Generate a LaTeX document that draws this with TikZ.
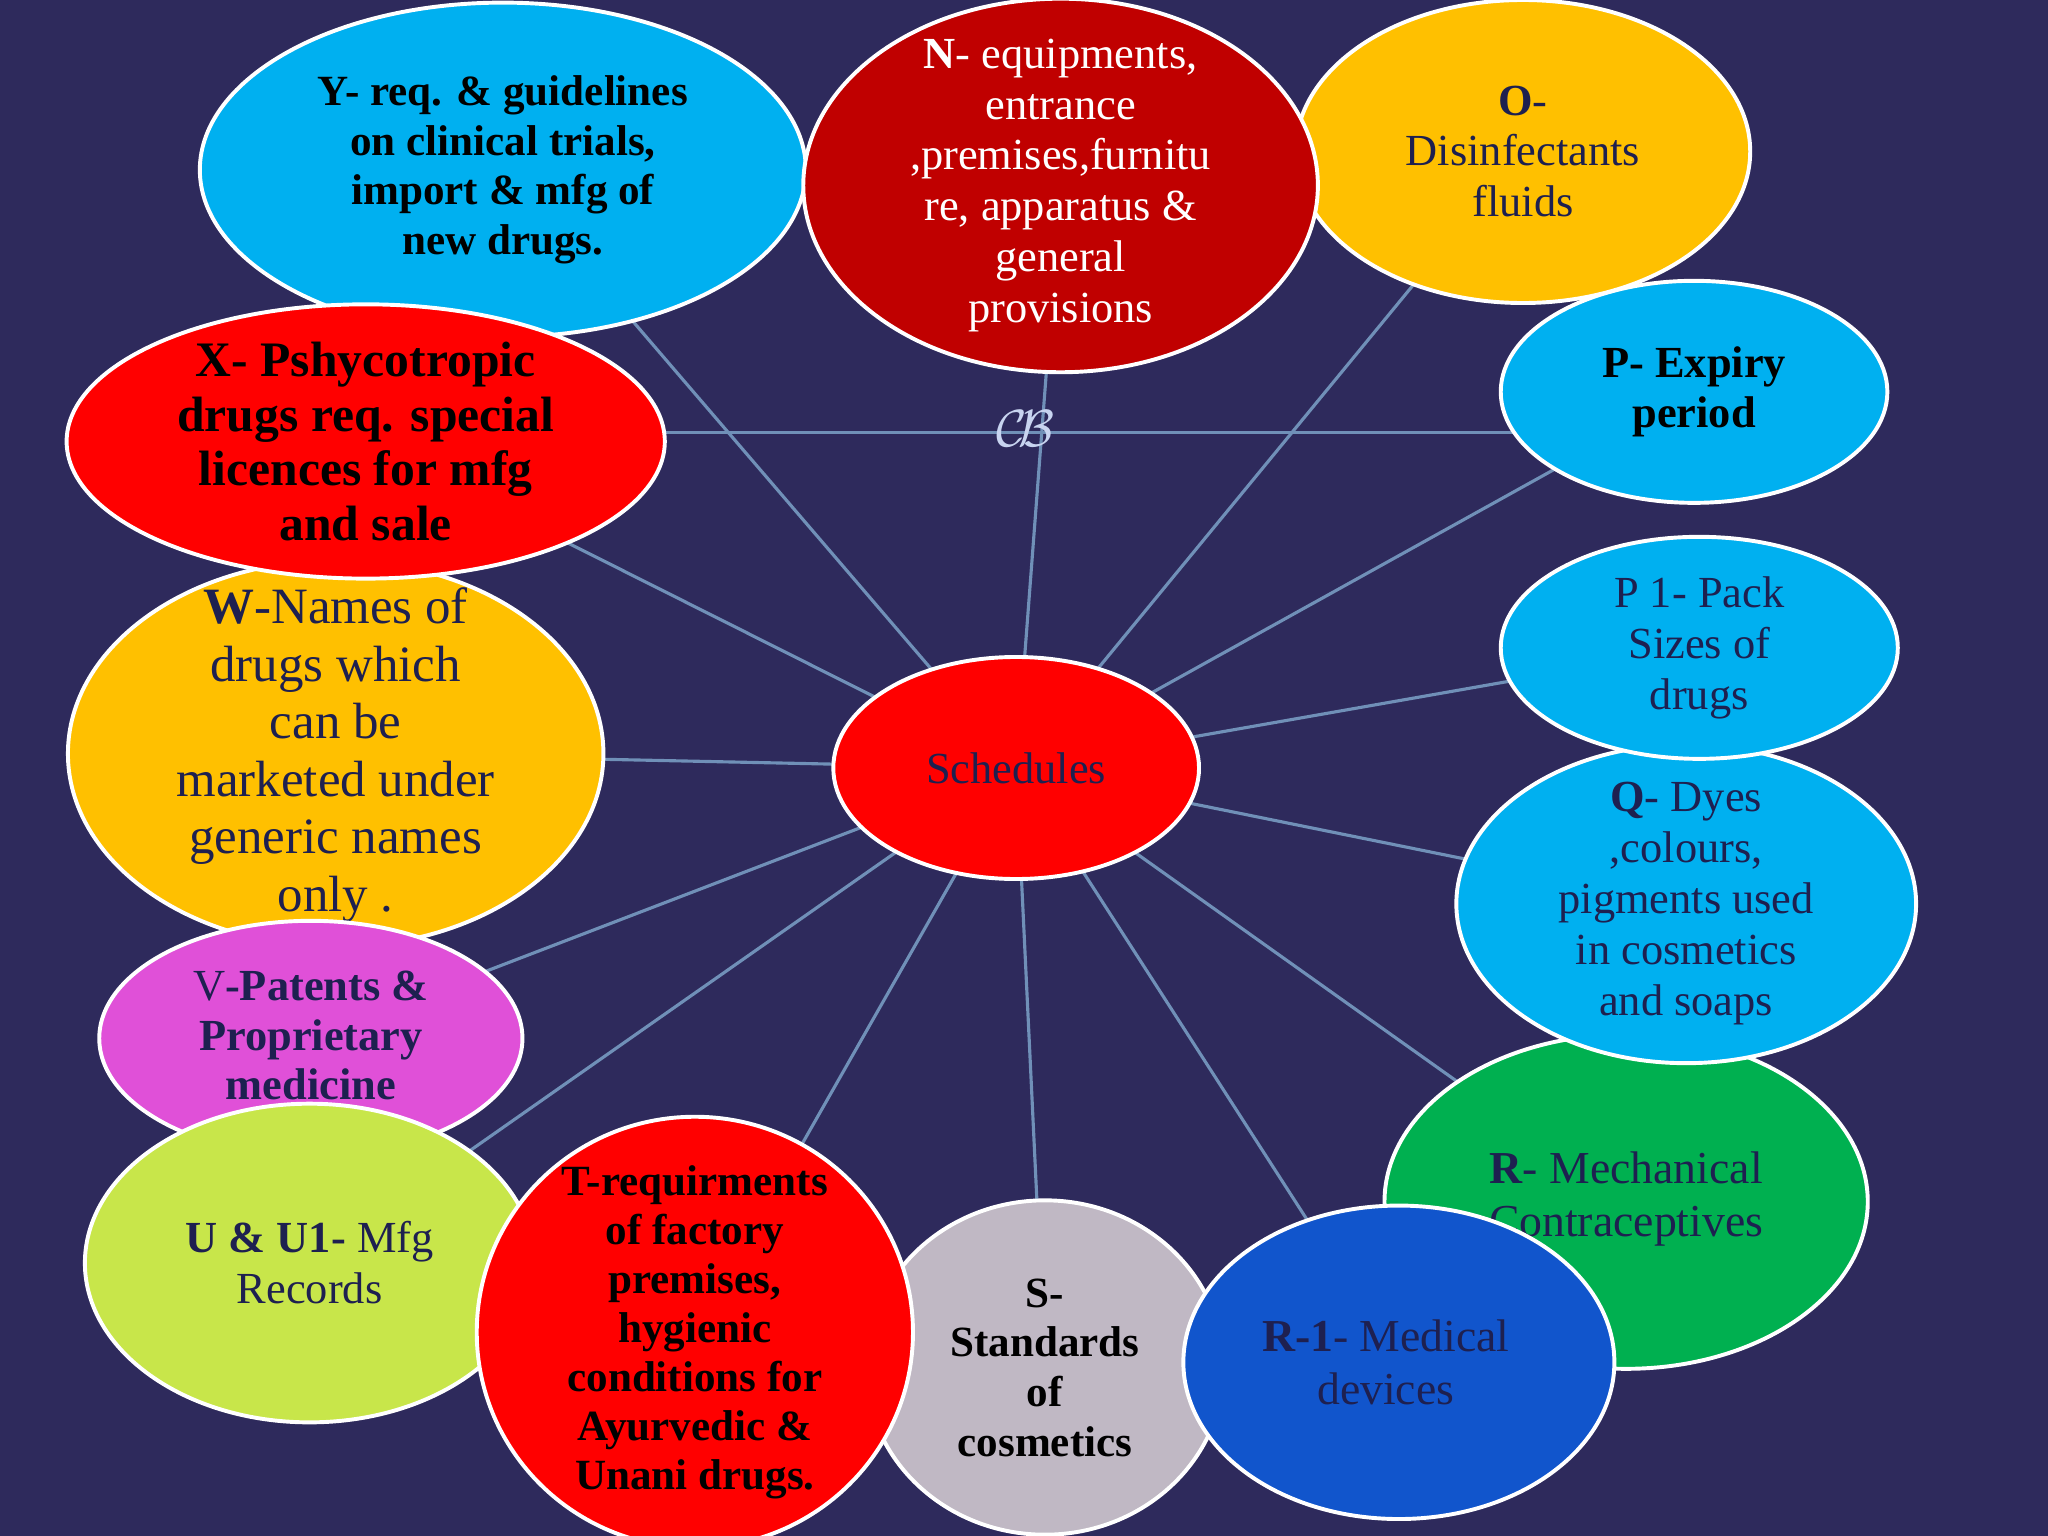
\documentclass[tikz,border=0pt]{standalone}
\usepackage{fontspec}
\setmainfont{Liberation Serif}
\definecolor{bg}{HTML}{2E2A5C}
\definecolor{ln}{HTML}{7090B8}
\definecolor{navy}{HTML}{1E2050}
\definecolor{cy}{HTML}{00B0F0}
\definecolor{rd}{HTML}{FF0000}
\definecolor{dr}{HTML}{C00000}
\definecolor{yl}{HTML}{FFC000}
\definecolor{mg}{HTML}{E050D8}
\definecolor{lg}{HTML}{C8E64A}
\definecolor{gy}{HTML}{C0B8C4}
\definecolor{gr}{HTML}{00B050}
\definecolor{bl}{HTML}{1155CC}
\definecolor{orc}{HTML}{C8D4F0}
\tikzset{
 el/.style={draw=white,line width=1.5pt},
 tx/.style={align=center,inner sep=0pt},
 conn/.style={ln,line width=1.2pt}
}
\newcommand{\blob}[6]{% name, x, y, rx, ry, fill
  \coordinate (#1) at (#2,#3);
  \fill[#6] (#1) ellipse [x radius=#4,y radius=#5];
  \draw[el] (#1) ellipse [x radius=#4,y radius=#5];}
\begin{document}
\begin{tikzpicture}[x=0.5pt,y=-0.5pt]
\fill[bg] (0,0) rectangle (1568,1176);
\useasboundingbox (0,0) rectangle (1568,1176);
\coordinate (c) at (778,588);
\foreach \n/\p in {y/{385,130},n/{812,142},o/{1166,116},p/{1297,300},pa/{1301,496},q/{1291,692},r/{1245,920},ra/{1071,1043},s/{800,1047},t/{532,1020},u/{237,967},v/{238,795},w/{257,577},x/{280,338}}
  \coordinate (\n c) at (\p);
\foreach \n in {yc,nc,oc,pc,pac,qc,rc,rac,sc,tc,uc,vc,wc,xc}
  \draw[conn] (c) -- (\n);
\coordinate (hl) at (300,331);
\coordinate (hr) at (1280,331);
\draw[conn] (hl) -- (hr);
\blob{ey}{385}{130}{232}{128}{cy}
\node[tx,font=\fontsize{16.5}{19}\selectfont\bfseries] (y) at (yc) {Y- req. \& guidelines\\on clinical trials,\\import \& mfg of\\new drugs.};
\blob{ew}{257}{577}{205}{148}{yl}
\blob{ex}{280}{338}{229}{105}{rd}
\node[tx,font=\fontsize{19}{21}\selectfont\bfseries] (x) at (xc) {X- Pshycotropic\\drugs req. special\\licences for mfg\\and sale};
\node[tx,text=navy,font=\fontsize{19.5}{22}\selectfont] (w) at (257,578) {\textbf{W}-Names of\\drugs which\\can be\\marketed under\\generic names\\only .};
\blob{ev}{238}{795}{162}{90}{mg}
\node[tx,text=navy,font=\fontsize{17}{19}\selectfont] (v) at (238,793) {V\textbf{-Patents \&}\\\textbf{Proprietary}\\\textbf{medicine}};
\blob{eu}{237}{967}{172}{122}{lg}
\node[tx,text=navy,font=\fontsize{17}{19.5}\selectfont] (u) at (uc) {\textbf{U \& U1-} Mfg\\Records};
\blob{es}{800}{1047}{137}{128}{gy}
\node[tx,font=\fontsize{16.5}{19}\selectfont\bfseries] (s) at (sc) {S-\\Standards\\of\\cosmetics};
\blob{et}{532}{1020}{167}{165}{rd}
\node[tx,font=\fontsize{16.5}{18.7}\selectfont\bfseries] (t) at (tc) {T-requirments\\of factory\\premises,\\hygienic\\conditions for\\Ayurvedic \&\\Unani drugs.};
\blob{er}{1245}{920}{185}{128}{gr}
\node[tx,text=navy,font=\fontsize{17.5}{20}\selectfont] (r) at (1245,918) {\textbf{R}- Mechanical\\Contraceptives};
\blob{era}{1071}{1043}{165}{120}{bl}
\node[tx,text=navy,font=\fontsize{17.5}{20}\selectfont] (ra) at (1061,1043) {\textbf{R-1}- Medical\\devices};
\blob{eq}{1291}{692}{176}{122}{cy}
\node[tx,text=navy,font=\fontsize{17}{19.5}\selectfont] (q) at (qc) {\textbf{Q}- Dyes\\,colours,\\pigments used\\in cosmetics\\and soaps};
\blob{epa}{1301}{496}{152}{85}{cy}
\node[tx,text=navy,font=\fontsize{17}{19.5}\selectfont] (pa) at (pac) {P 1- Pack\\Sizes of\\drugs};
\blob{ep}{1297}{300}{148}{85}{cy}
\node[tx,font=\fontsize{17}{19.5}\selectfont\bfseries] (p) at (pc) {P- Expiry\\period};
\blob{eo}{1166}{116}{174}{116}{yl}
\node[tx,text=navy,font=\fontsize{17}{19.5}\selectfont] (o) at (oc) {\textbf{O}-\\Disinfectants\\fluids};
\blob{en}{812}{142}{197}{143}{dr}
\node[tx,text=white,font=\fontsize{17}{19.5}\selectfont] (n) at (nc) {\textbf{N}- equipments,\\entrance\\,premises,furnitu\\re, apparatus \&\\general\\provisions};
\blob{esch}{778}{588}{140}{85}{rd}
\node[tx,text=navy,font=\fontsize{17}{19.5}\selectfont] (sch) at (c) {Schedules};
\node[text=orc] (orn) at (785,328) {\scalebox{2}{$\mathcal{C}\!\mathcal{B}$}};
\end{tikzpicture}
\end{document}
